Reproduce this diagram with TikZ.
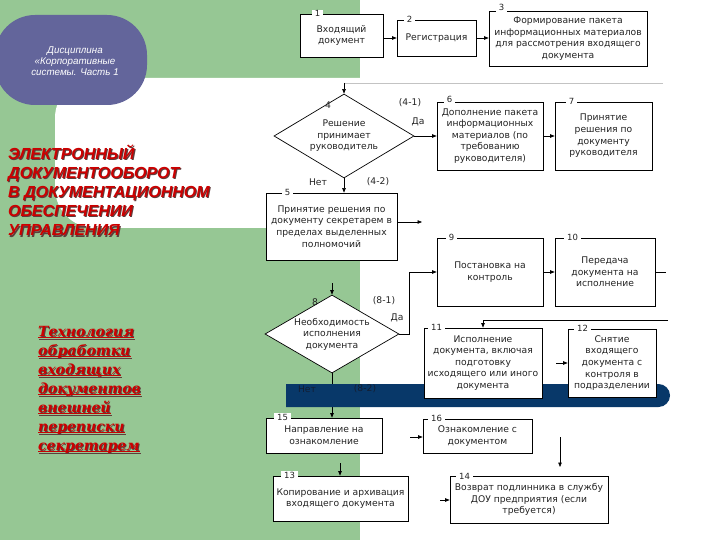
\documentclass[tikz,border=0pt]{standalone}
\usepackage{fontspec}
\setmainfont{DejaVu Sans}
\newfontfamily\titlefont{Liberation Sans}
\newfontfamily\techfont{DejaVu Serif}
\usetikzlibrary{shapes.geometric,arrows.meta,calc}
\pgfdeclarelayer{bgl}\pgfdeclarelayer{lines}\pgfdeclarelayer{bandl}
\pgfsetlayers{bgl,lines,bandl,main}
\definecolor{slidegreen}{RGB}{150,199,148}
\definecolor{ovalblue}{RGB}{99,101,155}
\definecolor{bandblue}{RGB}{8,56,105}
\definecolor{titlered}{RGB}{204,0,0}
\definecolor{shadowc}{RGB}{95,60,60}
\definecolor{txt}{RGB}{35,35,35}
\definecolor{grayline}{RGB}{195,195,195}
\definecolor{bandtxt}{RGB}{20,30,50}
\newcommand\fsz{\fontsize{9.2}{11.6}\selectfont}
\begin{document}
\begin{tikzpicture}[x=1pt,y=-1pt,
  box/.style={draw=black, line width=0.7pt, fill=white, inner sep=1pt, align=center, font=\fsz, text=txt},
  dia/.style={diamond, draw=black, line width=0.7pt, fill=white, inner sep=0pt, align=center, font=\fsz, text=txt},
  numlbl/.style={fill=white, inner xsep=3pt, inner ysep=1pt, font=\fontsize{8.5}{9}\selectfont, text=txt},
  lbl/.style={inner sep=0pt, font=\fsz, text=txt},
  conn/.style={draw=black, line width=0.6pt, -{Triangle[length=4.5pt,width=3.5pt]}},
  plain/.style={draw=black, line width=0.6pt},
  glin/.style={draw=grayline, line width=0.9pt},
  titlef/.style={anchor=base west, inner sep=0pt, font=\titlefont\bfseries\itshape\fontsize{16}{19}\selectfont},
  techf/.style={anchor=base west, inner sep=0pt, font=\techfont\bfseries\itshape\fontsize{14}{19}\selectfont}
]
\useasboundingbox (0,0) rectangle (720,540);
\begin{pgfonlayer}{bgl}
  \fill[slidegreen] (0,0) rectangle (360,540);
  \fill[white] (360,0) rectangle (720,540);
  \fill[white, rounded corners=40pt] (55,78) rectangle (420,228);
  \fill[ovalblue, rounded corners=40pt] (-5,15) rectangle (147,105);
\end{pgfonlayer}

% oval text
\node[font=\titlefont\itshape\fontsize{9.8}{11}\selectfont, text=white, align=center, inner sep=0pt] (ov) at (75,61) {Дисциплина\\«Корпоративные\\системы. Часть 1};

% title
\foreach \t [count=\i] in {ЭЛЕКТРОННЫЙ, ДОКУМЕНТООБОРОТ, В ДОКУМЕНТАЦИОННОМ, ОБЕСПЕЧЕНИИ, УПРАВЛЕНИЯ}{
  \node[titlef, text=shadowc] (ts\i) at (9,{142+19*\i}) {\t};
  \node[titlef, text=titlered] (t\i) at (8,{141+19*\i}) {\t};
}
% technology text
\foreach \t [count=\i] in {Технология, обработки, входящих, документов, внешней, переписки, секретарем}{
  \node[techf, text=shadowc] (ks\i) at (39,{318+19*\i}) {\t};
  \draw[shadowc, line width=1.2pt] ([shift={(0pt,-2.6pt)}]ks\i.base west) -- ([shift={(0pt,-2.6pt)}]ks\i.base east);
  \node[techf, text=titlered] (k\i) at (38,{317+19*\i}) {\t};
  \draw[titlered, line width=1.2pt] ([shift={(0pt,-1.8pt)}]k\i.base west) -- ([shift={(0pt,-1.8pt)}]k\i.base east);
}

% boxes
\node[box, minimum width=83pt, minimum height=43pt] (b1) at (341.5,35.5) {Входящий\\документ};
\node[box, minimum width=79pt, minimum height=36pt] (b2) at (436.5,38) {Регистрация};
\node[box, minimum width=158pt, minimum height=55pt] (b3) at (568,38.5) {Формирование пакета\\информационных материалов\\для рассмотрения входящего\\документа};
\node[dia, minimum width=140pt, minimum height=84pt, aspect=1.67] (d4) at (344,136) {Решение\\принимает\\руководитель};
\node[box, minimum width=106pt, minimum height=68pt] (b6) at (490,136) {Дополнение пакета\\информационных\\материалов (по\\требованию\\руководителя)};
\node[box, minimum width=97pt, minimum height=68pt] (b7) at (603.5,136) {Принятие\\решения по\\документу\\руководителя};
\node[box, minimum width=131pt, minimum height=67pt] (b5) at (331.5,226.5) {Принятие решения по\\документу секретарем в\\пределах выделенных\\полномочий};
\node[box, minimum width=106pt, minimum height=68pt] (b9) at (490,272) {Постановка на\\контроль};
\node[box, minimum width=100pt, minimum height=68pt] (b10) at (605,272) {Передача\\документа на\\исполнение};
\node[dia, minimum width=134pt, minimum height=78pt, aspect=1.72] (d8) at (332,334) {Необходимость\\исполнения\\документа};
\node[box, minimum width=118pt, minimum height=70pt] (b11) at (483,363) {Исполнение\\документа, включая\\подготовку\\исходящего или иного\\документа};
\node[box, minimum width=88pt, minimum height=68pt] (b12) at (612,363) {Снятие\\входящего\\документа с\\контроля в\\подразделении};
\node[box, minimum width=116pt, minimum height=35pt] (b15) at (324,435.5) {Направление на\\ознакомление};
\node[box, minimum width=109pt, minimum height=34pt] (b16) at (477.5,436) {Ознакомление с\\документом};
\node[box, minimum width=135pt, minimum height=45pt] (b13) at (340.5,498.5) {Копирование и архивация\\входящего документа};
\node[box, minimum width=158pt, minimum height=47pt] (b14) at (529,499.5) {Возврат подлинника в службу\\ДОУ предприятия (если\\требуется)};

% number labels
\node[numlbl] (n1) at ([xshift=18pt]b1.north west) {1};
\node[numlbl] (n2) at ([xshift=13pt]b2.north west) {2};
\node[numlbl] (n3) at ([xshift=13pt,yshift=3pt]b3.north west) {3};
\node[numlbl] (n6) at ([xshift=13pt,yshift=2pt]b6.north west) {6};
\node[numlbl] (n7) at ([xshift=17pt]b7.north west) {7};
\node[numlbl] (n5) at ([xshift=22pt]b5.north west) {5};
\node[numlbl] (n9) at ([xshift=15pt]b9.north west) {9};
\node[numlbl] (n10) at ([xshift=18pt]b10.north west) {10};
\node[numlbl] (n11) at ([xshift=13pt]b11.north west) {11};
\node[numlbl] (n12) at ([xshift=15pt]b12.north west) {12};
\node[numlbl] (n15) at ([xshift=17pt]b15.north west) {15};
\node[numlbl] (n16) at ([xshift=14pt]b16.north west) {16};
\node[numlbl] (n13) at ([xshift=17pt]b13.north west) {13};
\node[numlbl] (n14) at ([xshift=15pt,yshift=-1pt]b14.north west) {14};

% other labels
\node[lbl] (l4) at (328,105) {4};
\node[lbl] (l41) at (410,103) {(4-1)};
\node[lbl] (l4y) at (418,122) {Да};
\node[lbl] (l4n) at (318,182) {Нет};
\node[lbl] (l42) at (378,182) {(4-2)};
\node[lbl] (l8) at (315,302) {8};
\node[lbl] (l81) at (384,301) {(8-1)};
\node[lbl] (l8y) at (397,318) {Да};
\node[lbl, text=bandtxt] (l8n) at (307,389) {Нет};
\node[lbl, text=bandtxt] (l82) at (365,389) {(8-2)};

% free ends
\coordinate (g0) at (663,83);
\coordinate (c5) at (422,222);
\coordinate (c10) at (666,272);
\coordinate (c8) at (332,283);
\coordinate (c11) at (668,320);
\coordinate (c12) at (556,363);
\coordinate (c16) at (410,437);
\coordinate (v1) at (560,437);
\coordinate (v2) at (560,467);
\coordinate (c13) at (340,463);
\coordinate (c14) at (440,500);

\begin{pgfonlayer}{lines}
  \draw[conn] (b1.east |- b2.west) -- (b2.west);
  \draw[conn] (b2.east) -- (b3.west |- b2.east);
  \draw[glin] (g0) -- (g0 -| d4.north);
  \draw[conn] (g0 -| d4.north) -- (d4.north);
  \draw[conn] (d4.east) -- (b6.west);
  \draw[conn] (b6.east) -- (b7.west);
  \draw[conn] (d4.south) -- (d4.south |- b5.north);
  \draw[conn] (b5.east |- c5) -- (c5);
  \draw[conn] (b9.east) -- (b10.west);
  \draw[plain] (b10.east) -- (c10);
  \draw[conn] (c8) -- (d8.north);
  \draw[conn] (d8.east) -- ++(10,0) |- (b9.west);
  \draw[conn] (c11) -| (b11.north);
  \draw[conn] (c12) -- (b12.west);
  \draw[conn] (d8.south) -- (d8.south |- b15.north);
  \draw[conn] (c16) -- (c16 -| b16.west);
  \draw[conn] (v1) -- (v2);
  \draw[conn] (c13) -- (c13 |- b13.north);
  \draw[conn] (c14) -- (c14 -| b14.west);
\end{pgfonlayer}

\begin{pgfonlayer}{bandl}
  \fill[bandblue] (286,384) -- (658.5,384) arc[start angle=-90, end angle=90, radius=11.5] -- (286,407) -- cycle;
\end{pgfonlayer}
\end{tikzpicture}
\end{document}
